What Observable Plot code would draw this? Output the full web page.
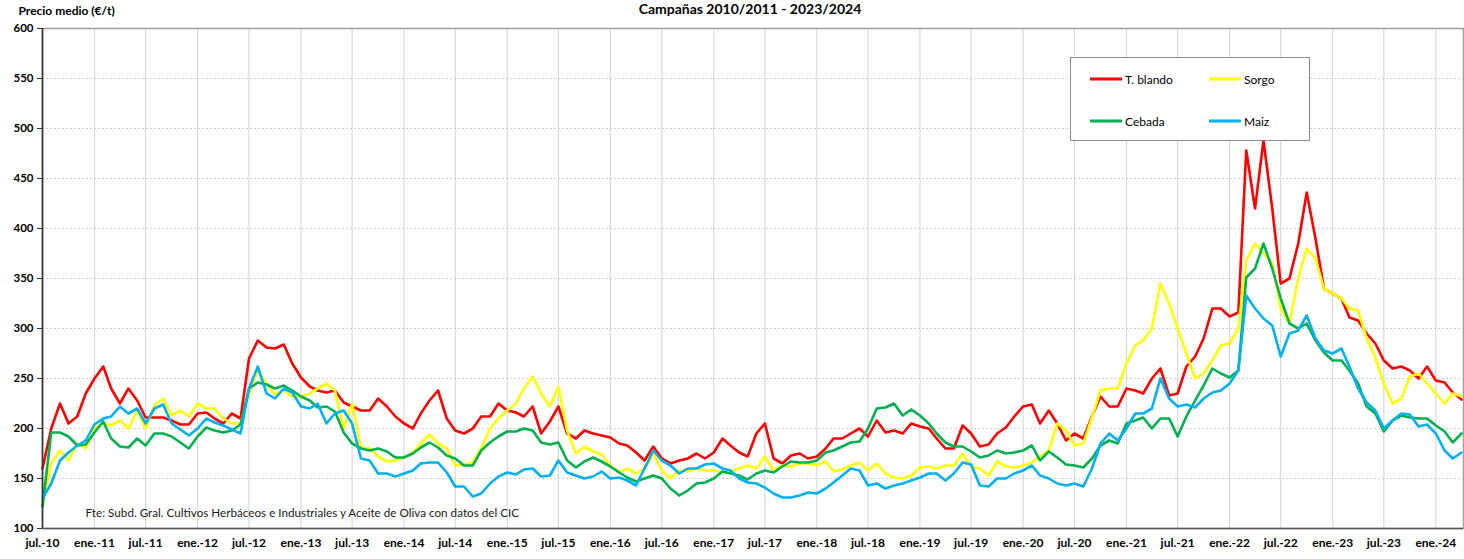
<!DOCTYPE html>
<html><head><meta charset="utf-8">
<script src="https://cdn.jsdelivr.net/npm/d3@7"></script>
<script src="https://cdn.jsdelivr.net/npm/@observablehq/plot@0.6"></script>
<style>
body{margin:0;background:#fff;font-family:Lato,"Liberation Sans",sans-serif;}
#wrap{position:relative;width:1464px;height:559px;overflow:hidden;}
#legend{position:absolute;left:1070px;top:57px;width:238px;height:82px;border:1.5px solid #8c8c8c;background:#fff;}
.item{position:absolute;font-size:12px;color:#000;display:flex;align-items:center;transform:translateY(-50%);white-space:nowrap;}
.sw{display:inline-block;width:32px;height:3px;margin-right:3px;}
#chart svg g[aria-label$="tick label"]{font-weight:700;}
</style></head><body>
<div id="wrap"><div id="chart"></div><div id="legend"></div></div>
<script>
// ---- datos (mensuales desde jul.-2010) ----
const seriesNames = ["T. blando", "Sorgo", "Cebada", "Maiz"];
const seriesColors = ["#ff0000", "#ffff00", "#00b050", "#00b0f0"];
const startYear = 2010, startMonth = 6; // julio 2010 (mes 0-based)

const tBlando = [
 160,200,225,205,212,235,250,262,240,225,
 240,228,211,211,211,208,204,204,215,216,
 210,205,215,210,270,288,281,280,284,265,
 251,242,238,236,238,226,222,218,218,230,
 222,212,205,200,215,228,238,210,198,195,
 200,212,212,225,218,216,212,222,195,207,
 222,195,190,198,195,193,191,185,183,176,
 168,182,170,165,168,170,175,170,176,190,
 183,176,172,195,205,170,165,173,175,170,
 172,180,190,190,195,200,192,208,196,198,
 195,205,202,200,190,180,180,203,195,182,
 184,195,201,212,222,224,205,218,205,188,
 195,190,212,232,222,222,240,238,235,250,
 260,233,235,262,272,290,320,320,312,316,
 478,420,488,420,345,350,385,436,390,340,
 335,330,311,308,295,285,268,260,262,258,
 250,262,248,246,236,229];

const sorgo = [
 125,165,178,168,185,180,200,205,203,208,
 200,218,200,223,230,213,218,212,225,220,
 220,210,205,205,235,258,245,234,238,232,
 232,235,240,245,238,200,225,181,180,172,
 167,168,171,176,185,194,185,180,163,164,
 166,180,200,210,218,225,240,252,235,222,
 242,198,175,182,177,174,163,156,160,155,
 160,175,158,150,158,157,160,158,158,156,
 157,160,163,160,172,158,163,162,165,165,
 163,167,157,159,163,166,158,165,155,151,
 150,153,161,162,160,163,163,175,162,160,
 153,167,162,161,163,166,172,178,205,198,
 183,185,211,238,240,240,265,283,288,300,
 345,325,300,275,250,255,268,283,285,300,
 368,385,375,365,320,305,350,380,370,340,
 335,330,320,318,290,271,245,225,230,252,
 255,245,235,225,235,232];

const cebada = [
 122,196,196,192,183,184,196,207,190,182,
 181,190,183,195,195,192,186,180,192,201,
 198,196,198,204,240,246,244,240,243,238,
 232,228,221,222,217,196,185,180,178,180,
 177,171,171,175,181,186,181,173,170,163,
 163,178,186,192,197,197,200,198,186,184,
 186,168,161,167,171,167,162,156,151,147,
 150,153,150,140,133,138,145,146,150,157,
 155,153,149,155,158,156,162,167,166,166,
 168,176,178,182,186,187,200,220,221,225,
 213,219,213,205,195,186,182,182,177,171,
 173,178,175,176,178,183,168,177,171,164,
 163,161,170,183,188,185,205,208,211,200,
 210,210,192,212,228,243,260,255,251,258,
 351,360,385,360,330,305,300,305,288,276,
 268,268,258,245,222,215,197,208,213,211,
 210,210,203,197,186,195];

const maiz = [
 130,145,168,176,183,188,204,210,212,222,
 215,220,205,220,224,205,199,193,200,210,
 206,203,199,195,240,262,235,230,240,236,
 222,220,225,205,215,218,205,170,168,155,
 155,152,155,158,165,166,166,156,142,142,
 132,135,145,152,156,154,159,160,152,153,
 168,156,153,150,152,157,150,151,148,143,
 160,178,168,163,155,160,160,164,165,160,
 158,150,146,145,141,135,131,131,133,136,
 135,140,146,153,160,158,143,145,140,143,
 145,148,151,155,155,148,155,166,164,143,
 142,150,150,155,158,163,153,150,145,143,
 145,142,160,185,195,188,200,215,215,220,
 250,230,222,224,221,230,236,238,245,258,
 333,320,310,303,272,295,298,313,290,278,
 275,280,262,240,226,218,200,208,215,214,
 202,204,195,178,170,176];

const yTicks = [100,150,200,250,300,350,400,450,500,550,600];
const xTickLabels = ["jul.-10","ene.-11","jul.-11","ene.-12","jul.-12","ene.-13","jul.-13","ene.-14",
 "jul.-14","ene.-15","jul.-15","ene.-16","jul.-16","ene.-17","jul.-17","ene.-18","jul.-18","ene.-19",
 "jul.-19","ene.-20","jul.-20","ene.-21","jul.-21","ene.-22","jul.-22","ene.-23","jul.-23","ene.-24"];
const titleText = "Campañas 2010/2011 - 2023/2024";
const yLabel = "Precio medio (€/t)";
const sourceText = "Fte: Subd. Gral. Cultivos Herbáceos e Industriales y Aceite de Oliva con datos del CIC";

// ---- construcción ----
const monthDate = i => new Date(Date.UTC(startYear, startMonth + i, 1));
const seriesValues = [tBlando, sorgo, cebada, maiz];
const tables = seriesValues.map((vals, s) => vals.map((v, i) => ({date: monthDate(i), value: v, series: seriesNames[s]})));
const tickDates = xTickLabels.map((_, i) => monthDate(i * 6));
const labelMap = new Map(tickDates.map((d, i) => [+d, xTickLabels[i]]));
const xStart = monthDate(0);
const xEnd = new Date(Date.UTC(2024, 3, 8));

const chart = Plot.plot({
  width: 1464, height: 559,
  marginLeft: 42, marginRight: 1, marginTop: 28, marginBottom: 31,
  style: {fontFamily: "Lato, 'Liberation Sans', sans-serif", fontSize: "11px", background: "white", color: "#000"},
  x: {type: "utc", domain: [xStart, xEnd], axis: null},
  y: {domain: [100, 600], axis: null},
  marks: [
    Plot.gridX(tickDates.slice(1), {stroke: "#d9d9d9", strokeOpacity: 1, strokeWidth: 1.2}),
    Plot.gridY(yTicks.filter(v => v > 100 && v < 600), {stroke: "#cfcfcf", strokeOpacity: 1, strokeDasharray: "2,2"}),
    Plot.frame({stroke: "#a0a0a0", strokeWidth: 1.5}),
    ...tables.map((t, s) => Plot.line(t, {x: "date", y: "value", stroke: seriesColors[s], strokeWidth: 2.6, strokeLinejoin: "round"})),
    Plot.ruleY([100], {stroke: "#595959", strokeWidth: 1.6}),
    Plot.ruleX([xStart], {stroke: "#333", strokeWidth: 1.6}),
    Plot.axisY(yTicks, {tickSize: 5, tickPadding: 4, fontWeight: "bold", fontSize: 11.5, label: null, stroke: "#333"}),
    Plot.axisX(tickDates, {tickSize: 0, tickPadding: 10, fontWeight: "bold", fontSize: 12, label: null, tickFormat: d => labelMap.get(+d)}),
    Plot.text([titleText], {frameAnchor: "top", dx: -3, dy: -24, lineAnchor: "top", fontWeight: "bold", fontSize: 14}),
    Plot.text([yLabel], {frameAnchor: "top-left", dx: -24, dy: -17, textAnchor: "start", lineAnchor: "middle", fontWeight: "bold", fontSize: 12}),
    Plot.text([sourceText], {frameAnchor: "bottom-left", dx: 43, dy: -15, textAnchor: "start", lineAnchor: "middle", fontSize: 11.7, fill: "#222"})
  ]
});
document.getElementById("chart").appendChild(chart);

// leyenda
const legendPos = [[19, 21], [138, 21], [19, 63], [138, 63]];
const legend = document.getElementById("legend");
seriesNames.forEach((name, i) => {
  const it = document.createElement("div");
  it.className = "item";
  it.style.left = legendPos[i][0] + "px";
  it.style.top = legendPos[i][1] + "px";
  it.innerHTML = `<span class="sw" style="background:${seriesColors[i]}"></span>${name}`;
  legend.appendChild(it);
});
</script>
</body></html>
